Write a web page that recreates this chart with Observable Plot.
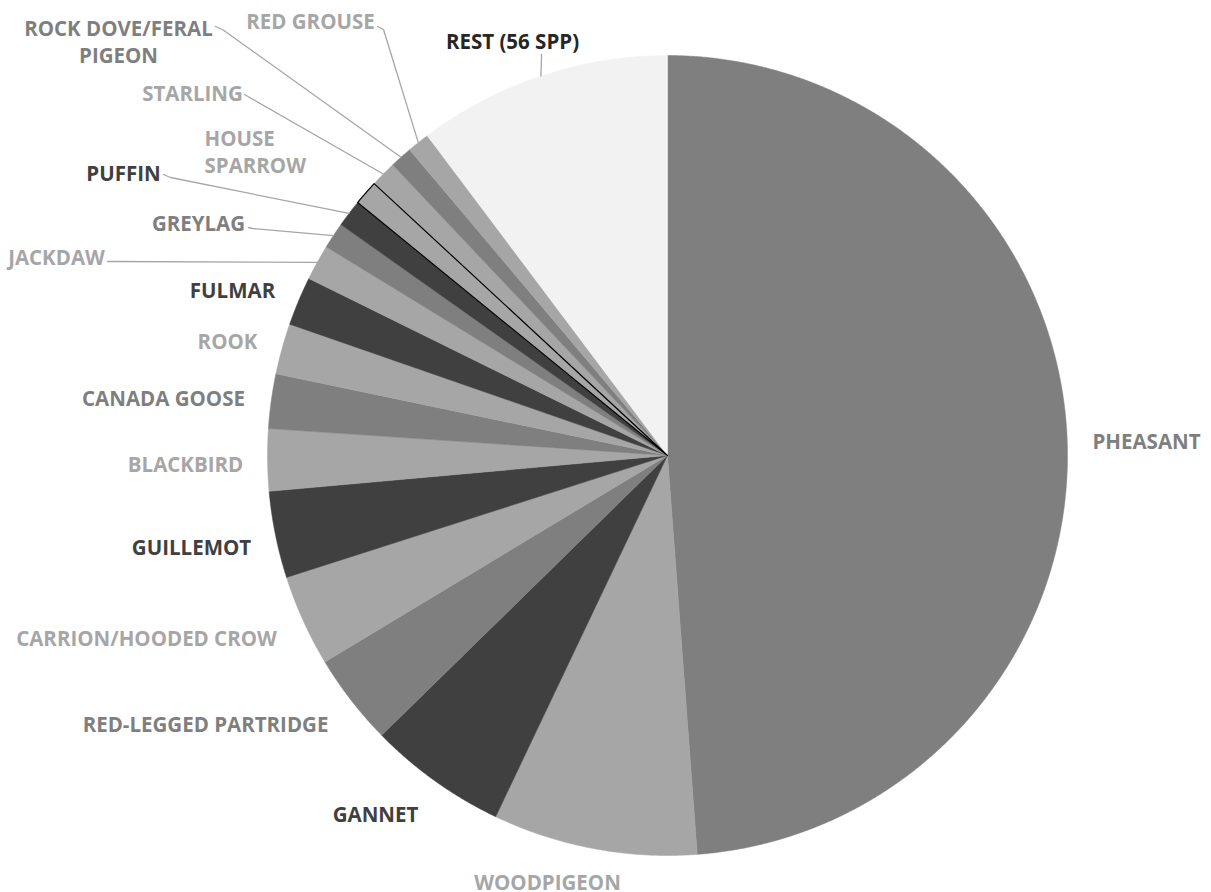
<!DOCTYPE html>
<html>
<head>
<meta charset="utf-8">
<script src="https://cdn.jsdelivr.net/npm/d3@7"></script>
<script src="https://cdn.jsdelivr.net/npm/@observablehq/plot@0.6"></script>
<style>
  html, body { margin: 0; padding: 0; background: #ffffff; }
  #chart svg { display: block; }
</style>
</head>
<body>
<div id="chart"></div>
<script>
// ---- data (clockwise from 12 o'clock), percent shares ----
const species = ["PHEASANT", "WOODPIGEON", "GANNET", "RED-LEGGED PARTRIDGE", "CARRION/HOODED CROW",
  "GUILLEMOT", "BLACKBIRD", "CANADA GOOSE", "ROOK", "FULMAR", "JACKDAW", "GREYLAG", "PUFFIN",
  "HOUSE SPARROW", "STARLING", "ROCK DOVE/FERAL PIGEON", "RED GROUSE", "REST (56 SPP)"];
const shares = [48.8, 8.25, 5.6, 3.7, 3.7, 3.5, 2.5, 2.2, 2.05, 1.97, 1.44, 1.06, 1.1, 1.0, 1.05, 0.9, 0.9, 10.25];
const labelText = ["PHEASANT", "WOODPIGEON", "GANNET", "RED-LEGGED PARTRIDGE", "CARRION/HOODED CROW",
  "GUILLEMOT", "BLACKBIRD", "CANADA GOOSE", "ROOK", "FULMAR", "JACKDAW", "GREYLAG", "PUFFIN",
  "HOUSE\nSPARROW", "STARLING", "ROCK DOVE/FERAL\nPIGEON", "RED GROUSE", "REST (56 SPP)"];

// ---- styles / layout ----
const tone = ["#7f7f7f", "#a6a6a6", "#404040", "#7f7f7f", "#a6a6a6", "#404040", "#a6a6a6", "#7f7f7f",
  "#a6a6a6", "#404040", "#a6a6a6", "#7f7f7f", "#404040", "#a6a6a6", "#a6a6a6", "#7f7f7f", "#a6a6a6", "#f2f2f2"];
const labelTone = tone.map((c, i) => species[i] === "REST (56 SPP)" ? "#262626" : c);
const outlined = ["HOUSE SPARROW"];
const W = 1211, H = 892, CX = 667, CY = 455, R = 400;
const FONT = 20.5;
// label anchor positions in pixels
const labelPos = {
  "PHEASANT": [1146, 440, "middle"], "WOODPIGEON": [547, 880.5, "middle"], "GANNET": [375, 813, "middle"],
  "RED-LEGGED PARTRIDGE": [205, 723, "middle"], "CARRION/HOODED CROW": [146, 637, "middle"],
  "GUILLEMOT": [191, 546, "middle"], "BLACKBIRD": [185, 463, "middle"], "CANADA GOOSE": [163, 397, "middle"],
  "ROOK": [227, 340, "middle"], "FULMAR": [232, 289, "middle"], "JACKDAW": [56, 256, "middle"],
  "GREYLAG": [198, 222, "middle"], "PUFFIN": [123, 172, "middle"], "HOUSE SPARROW": [204, 150, "start"],
  "STARLING": [192, 92, "middle"], "ROCK DOVE/FERAL PIGEON": [118, 40, "middle"],
  "RED GROUSE": [310, 20, "middle"], "REST (56 SPP)": [512, 40, "middle"]
};
// leader line start points (label side): [start, elbow]
const leaderStart = {
  "REST (56 SPP)": [[541, 54], [541, 56]],
  "RED GROUSE": [[377, 26], [383, 29]],
  "ROCK DOVE/FERAL PIGEON": [[215, 26], [222, 29]],
  "STARLING": [[244, 94], [251, 98]],
  "PUFFIN": [[163, 174], [170, 177]],
  "GREYLAG": [[248, 227], [252, 228]],
  "JACKDAW": [[107, 261], [110, 261]]
};

// ---- geometry from the data ----
const total = d3.sum(shares);
let acc = 0;
const slices = species.map((name, i) => {
  const a0 = acc / total * 2 * Math.PI;
  acc += shares[i];
  const a1 = acc / total * 2 * Math.PI;
  return {name, i, a0, a1, mid: (a0 + a1) / 2};
});
const px = a => CX + R * Math.sin(a);
const py = a => CY - R * Math.cos(a);
const poly = [];
for (const s of slices) {
  poly.push({name: s.name, x: CX, y: CY, fill: tone[s.i]});
  const n = Math.max(2, Math.ceil((s.a1 - s.a0) / (Math.PI / 720)));
  for (let k = 0; k <= n; k++) {
    const a = s.a0 + (s.a1 - s.a0) * k / n;
    poly.push({name: s.name, x: px(a), y: py(a), fill: tone[s.i]});
  }
  poly.push({name: s.name, x: CX, y: CY, fill: tone[s.i]});
}
const leaders = [];
for (const s of slices) {
  const st = leaderStart[s.name];
  if (!st) continue;
  leaders.push({name: s.name, x: st[0][0], y: st[0][1]});
  leaders.push({name: s.name, x: st[1][0], y: st[1][1]});
  leaders.push({name: s.name, x: px(s.mid), y: py(s.mid)});
}
const labels = slices.map(s => ({
  text: labelText[s.i], x: labelPos[s.name][0], y: labelPos[s.name][1],
  anchor: labelPos[s.name][2], color: labelTone[s.i]
}));

const chart = Plot.plot({
  width: W, height: H, margin: 0,
  x: {domain: [0, W], range: [0, W], axis: null},
  y: {domain: [0, H], range: [0, H], axis: null},
  color: {type: "identity"},
  style: {background: "#ffffff", fontFamily: "'Open Sans', sans-serif"},
  marks: [
    Plot.line(poly, {x: "x", y: "y", z: "name", fill: "fill", stroke: "fill", strokeWidth: 0.5, curve: "linear-closed"}),
    Plot.line(poly.filter(d => outlined.includes(d.name)), {x: "x", y: "y", z: "name", fill: "none", stroke: "#000000", strokeWidth: 1.2, curve: "linear-closed"}),
    Plot.line(leaders, {x: "x", y: "y", z: "name", stroke: "#a6a6a6", strokeWidth: 1.3}),
    Plot.text(labels.filter(d => d.anchor === "middle"), {x: "x", y: "y", text: "text", fill: "color", textAnchor: "middle", fontSize: FONT, fontWeight: 700, lineHeight: 1.32}),
    Plot.text(labels.filter(d => d.anchor === "start"), {x: "x", y: "y", text: "text", fill: "color", textAnchor: "start", fontSize: FONT, fontWeight: 700, lineHeight: 1.32})
  ]
});
document.getElementById("chart").appendChild(chart);
</script>
</body>
</html>
